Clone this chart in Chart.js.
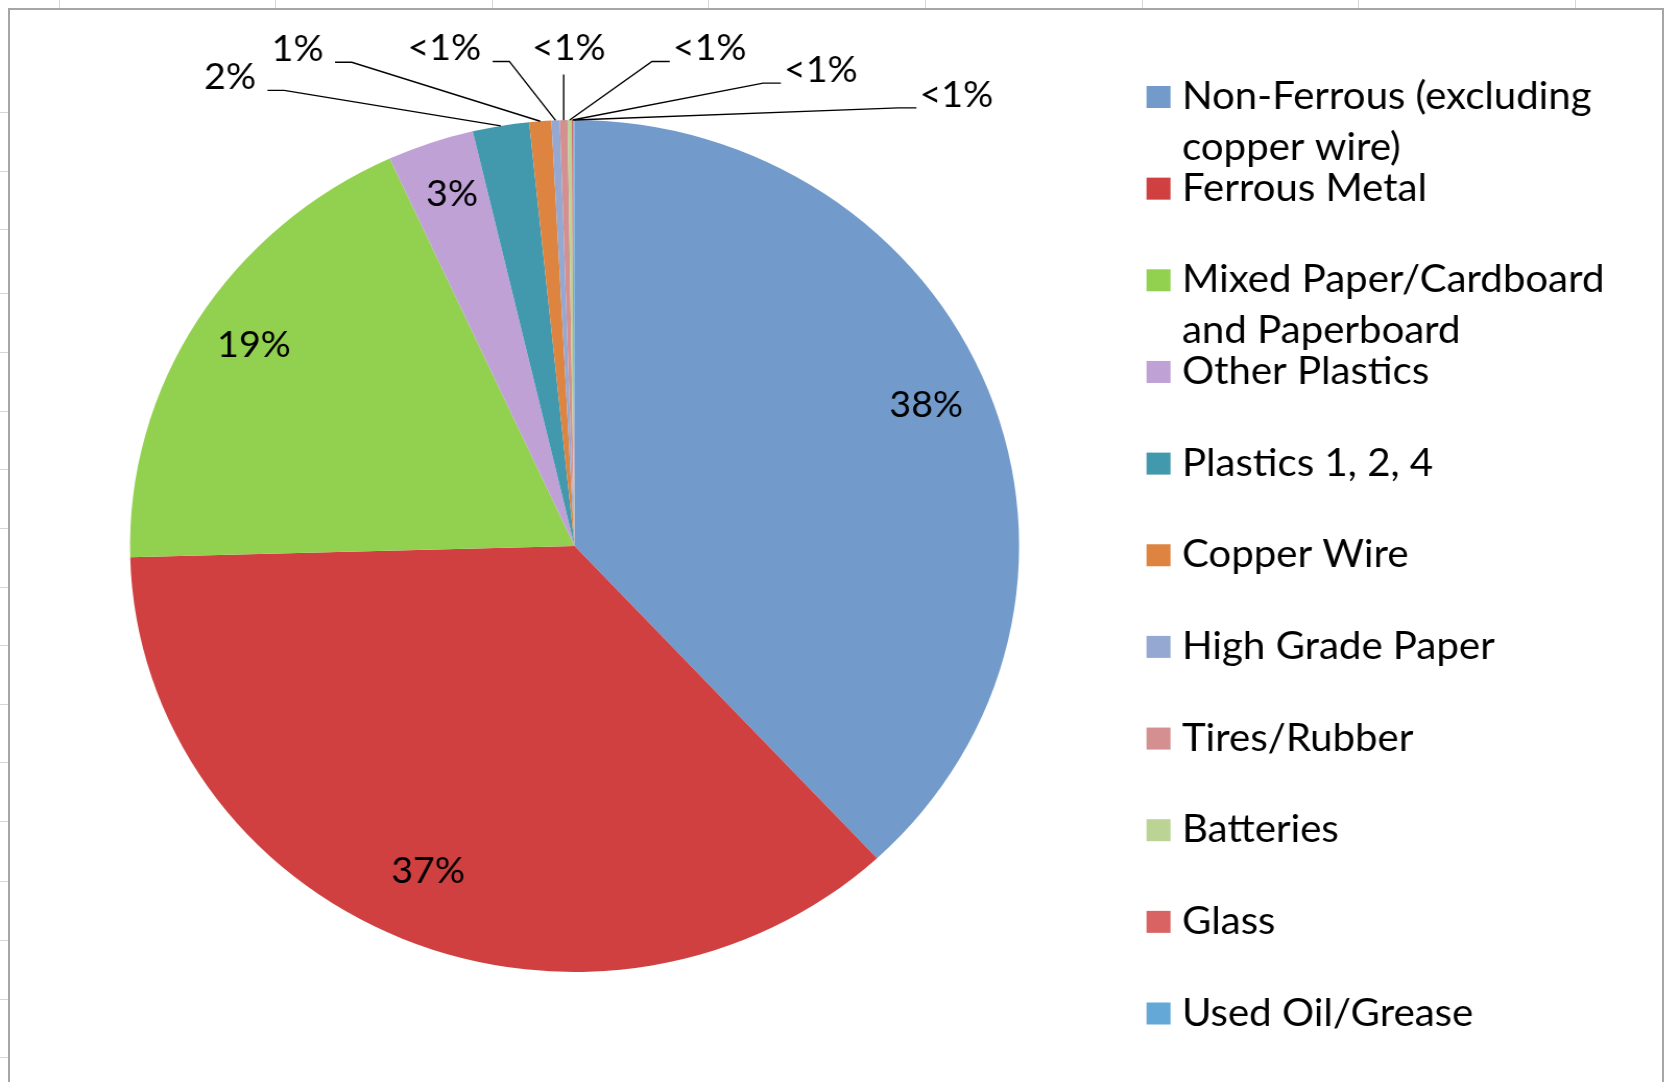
<!DOCTYPE html>
<html>
<head>
<meta charset="utf-8">
<script src="https://cdn.jsdelivr.net/npm/chart.js@4.4.0/dist/chart.umd.min.js"></script>
<style>
  html, body { margin: 0; padding: 0; background: #fff; overflow: hidden; }
  body { width: 1671px; height: 1082px; position: relative; }
  .gridline { position: absolute; background: #d6d6d6; }
  #frame {
    position: absolute; left: 8px; top: 8px; width: 1656px; height: 1090px;
    border: 2px solid #a6a6a6; background: #fff; box-sizing: border-box;
  }
  #wrap {
    position: absolute; left: 0; top: 0; width: 1601px; height: 1082px;
    transform: scaleX(1.0435); transform-origin: 0 0;
  }
</style>
</head>
<body>
<div id="frame"></div>
<div id="wrap"><canvas id="pie"></canvas></div>
<script>
// data (percent of total)
const categories = [
    "Non-Ferrous (excluding copper wire)",
    "Ferrous Metal",
    "Mixed Paper/Cardboard and Paperboard",
    "Other Plastics",
    "Plastics 1, 2, 4",
    "Copper Wire",
    "High Grade Paper",
    "Tires/Rubber",
    "Batteries",
    "Glass",
    "Used Oil/Grease"
];
const shares = [38.1, 36.5, 18.6, 3.15, 2.05, 0.8, 0.3, 0.28, 0.15, 0.05, 0.05];
const sliceColors = [
    "#729ACB", "#D04040", "#92D050", "#BFA1D6", "#4298AD", "#DD8440",
    "#95A8D2", "#D49090", "#BBD394", "#D96363", "#64A8D8"
];

// the screenshot is a bit wider than tall, canvas is stretched in css by this
const STRETCH = 1.0435;
const LABEL_FONT = '36px Lato, "Open Sans", sans-serif';
const LEGEND_FONT = '38.5px Lato, "Open Sans", sans-serif';

// spots for the small labels above the pie, in radius units from the centre
const outsideSpots = [
    [-0.775, -1.10], [-0.623, -1.166], [-0.293, -1.168], [-0.013, -1.168],
    [0.304, -1.168], [0.554, -1.117], [0.859, -1.059]
];

function pctText(v) {
    const r = Math.round(v);
    return r < 1 ? "<1%" : r + "%";
}

// spreadsheet cells peeking out around the chart box
(function drawSheet() {
    const cols = [58.6, 275, 491.7, 708.4, 925, 1141.7, 1358.4, 1575];
    const rows = [112, 170.5, 229, 293, 352, 411, 469, 528, 586.6, 645, 704, 762, 821, 881, 940, 998.6, 1057];
    cols.forEach(x => {
        const d = document.createElement("div");
        d.className = "gridline";
        d.style.cssText = `left:${x}px;top:0;width:1px;height:8px`;
        document.body.insertBefore(d, document.body.firstChild);
    });
    rows.forEach(y => {
        const d = document.createElement("div");
        d.className = "gridline";
        d.style.cssText = `left:0;top:${y}px;width:8px;height:1px`;
        document.body.insertBefore(d, document.body.firstChild);
    });
})();

const sliceLabels = {
    id: "sliceLabels",
    afterDatasetsDraw(chart) {
        const ctx = chart.ctx;
        const arcs = chart.getDatasetMeta(0).data;
        ctx.save();
        ctx.font = LABEL_FONT;
        ctx.fillStyle = "#000";
        ctx.strokeStyle = "#000";
        ctx.lineWidth = 1.4;
        ctx.textAlign = "center";
        ctx.textBaseline = "alphabetic";
        let k = 0;
        arcs.forEach((arc, i) => {
            const p = arc.getProps(["x", "y", "startAngle", "endAngle", "outerRadius"], true);
            const mid = (p.startAngle + p.endAngle) / 2;
            const text = pctText(shares[i]);
            if (shares[i] >= 3) {
                const lx = p.x + Math.cos(mid) * p.outerRadius * 0.85;
                const ly = p.y + Math.sin(mid) * p.outerRadius * 0.85;
                ctx.fillText(text, lx, ly + 3);
                return;
            }
            const spot = outsideSpots[k++];
            const lx = p.x + spot[0] * p.outerRadius;
            const ly = p.y + spot[1] * p.outerRadius;
            ctx.fillText(text, lx, ly + 12);
            const w = ctx.measureText(text).width;
            const ex = p.x + Math.cos(mid) * p.outerRadius;
            const ey = p.y + Math.sin(mid) * p.outerRadius;
            const lineY = ly + 13;
            ctx.beginPath();
            if (Math.abs(lx - ex) < 15) {
                ctx.moveTo(ex, lineY + 13);
                ctx.lineTo(ex, ey);
            } else if (lx < ex) {
                const sx = lx + w / 2 + 11;
                ctx.moveTo(sx, lineY);
                ctx.lineTo(sx + 16, lineY);
                ctx.lineTo(ex, ey);
            } else {
                const sx = lx - w / 2 - 3;
                ctx.moveTo(sx, lineY);
                ctx.lineTo(sx - 17, lineY);
                ctx.lineTo(ex, ey);
            }
            ctx.stroke();
        });
        ctx.restore();
    }
};

const sideLegend = {
    id: "sideLegend",
    afterDraw(chart) {
        const ctx = chart.ctx;
        const boxX = 1146.5 / STRETCH;
        const textX = 1182 / STRETCH;
        const maxW = 432;
        ctx.save();
        ctx.font = LEGEND_FONT;
        ctx.textAlign = "left";
        ctx.textBaseline = "alphabetic";
        chart.data.labels.forEach((label, i) => {
            const cy = 97 + i * 91.65;
            ctx.fillStyle = chart.data.datasets[0].backgroundColor[i];
            ctx.fillRect(boxX, cy - 11, 23, 22);
            // word wrap
            const lines = [];
            let cur = "";
            label.split(" ").forEach(word => {
                const t = cur ? cur + " " + word : word;
                if (cur && ctx.measureText(t).width > maxW) {
                    lines.push(cur);
                    cur = word;
                } else {
                    cur = t;
                }
            });
            lines.push(cur);
            ctx.fillStyle = "#000";
            lines.forEach((ln, j) => ctx.fillText(ln, textX, cy + 12 + j * 51));
        });
        ctx.restore();
    }
};

new Chart(document.getElementById("pie"), {
    type: "pie",
    data: {
        labels: categories,
        datasets: [{
            data: shares,
            backgroundColor: sliceColors,
            borderWidth: 0,
            hoverOffset: 0
        }]
    },
    options: {
        responsive: true,
        maintainAspectRatio: false,
        animation: false,
        layout: { padding: { left: 124.6, top: 120, right: 624.4, bottom: 110 } },
        plugins: {
            legend: { display: false },
            tooltip: { enabled: false }
        }
    },
    plugins: [sliceLabels, sideLegend]
});
</script>
</body>
</html>
